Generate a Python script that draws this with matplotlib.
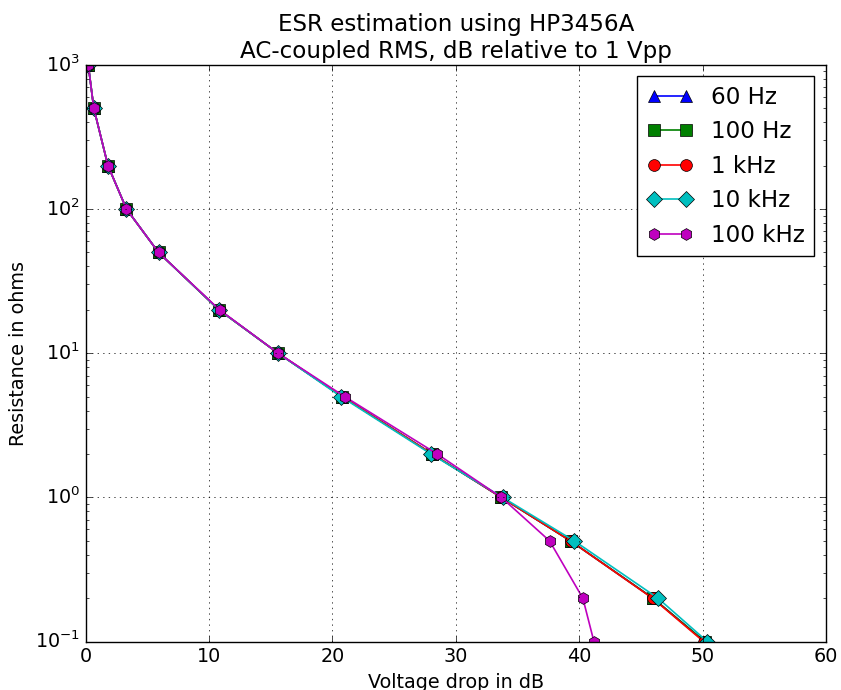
import matplotlib
matplotlib.use("Agg")
import matplotlib.pyplot as plt

plt.style.use("classic")
plt.rcParams["font.size"] = 13.8
plt.rcParams["lines.linewidth"] = 1.2
plt.rcParams["lines.markersize"] = 8.5
plt.rcParams["xtick.major.size"] = 4.6
plt.rcParams["ytick.major.size"] = 4.6
plt.rcParams["xtick.minor.size"] = 2.3
plt.rcParams["ytick.minor.size"] = 2.3

# resistances in ohms
ohms = [1000, 500, 200, 100, 50, 20, 10, 5, 2, 1, 0.5, 0.2, 0.1]

# voltage drop in dB, per test frequency
db_60hz = [0.2, 0.65, 1.8, 3.3, 5.9, 10.8, 15.6, 20.8, 28.1, 33.7, 39.3, 46.0, 50.2]
db_100hz = [0.2, 0.65, 1.8, 3.3, 5.9, 10.8, 15.6, 20.8, 28.1, 33.7, 39.3, 46.0, 50.2]
db_1khz = [0.2, 0.65, 1.8, 3.3, 5.9, 10.8, 15.6, 20.8, 28.1, 33.7, 39.3, 45.95, 50.1]
db_10khz = [0.2, 0.65, 1.8, 3.3, 5.9, 10.8, 15.6, 20.7, 28.0, 33.8, 39.6, 46.4, 50.4]
db_100khz = [0.2, 0.65, 1.8, 3.3, 5.9, 10.85, 15.6, 21.0, 28.5, 33.7, 37.6, 40.3, 41.2]

fig, ax = plt.subplots(figsize=(8.41, 6.9), dpi=100)
fig.subplots_adjust(left=0.102, right=0.982, top=0.906, bottom=0.07)

ax.plot(db_60hz, ohms, "b-^", label="60 Hz")
ax.plot(db_100hz, ohms, "g-s", label="100 Hz")
ax.plot(db_1khz, ohms, "r-o", label="1 kHz")
ax.plot(db_10khz, ohms, "c-D", label="10 kHz")
ax.plot(db_100khz, ohms, "m-h", label="100 kHz")

ax.set_yscale("log")
ax.set_xlim(0, 60)
ax.set_ylim(0.1, 1000)
ax.grid(True)
ax.set_title("ESR estimation using HP3456A\nAC-coupled RMS, dB relative to 1 Vpp", fontsize=16.6)
ax.set_xlabel("Voltage drop in dB")
ax.set_ylabel("Resistance in ohms")
ax.legend(loc="upper right", fontsize=16.6, numpoints=2)

fig.savefig("out.png", dpi=100)
